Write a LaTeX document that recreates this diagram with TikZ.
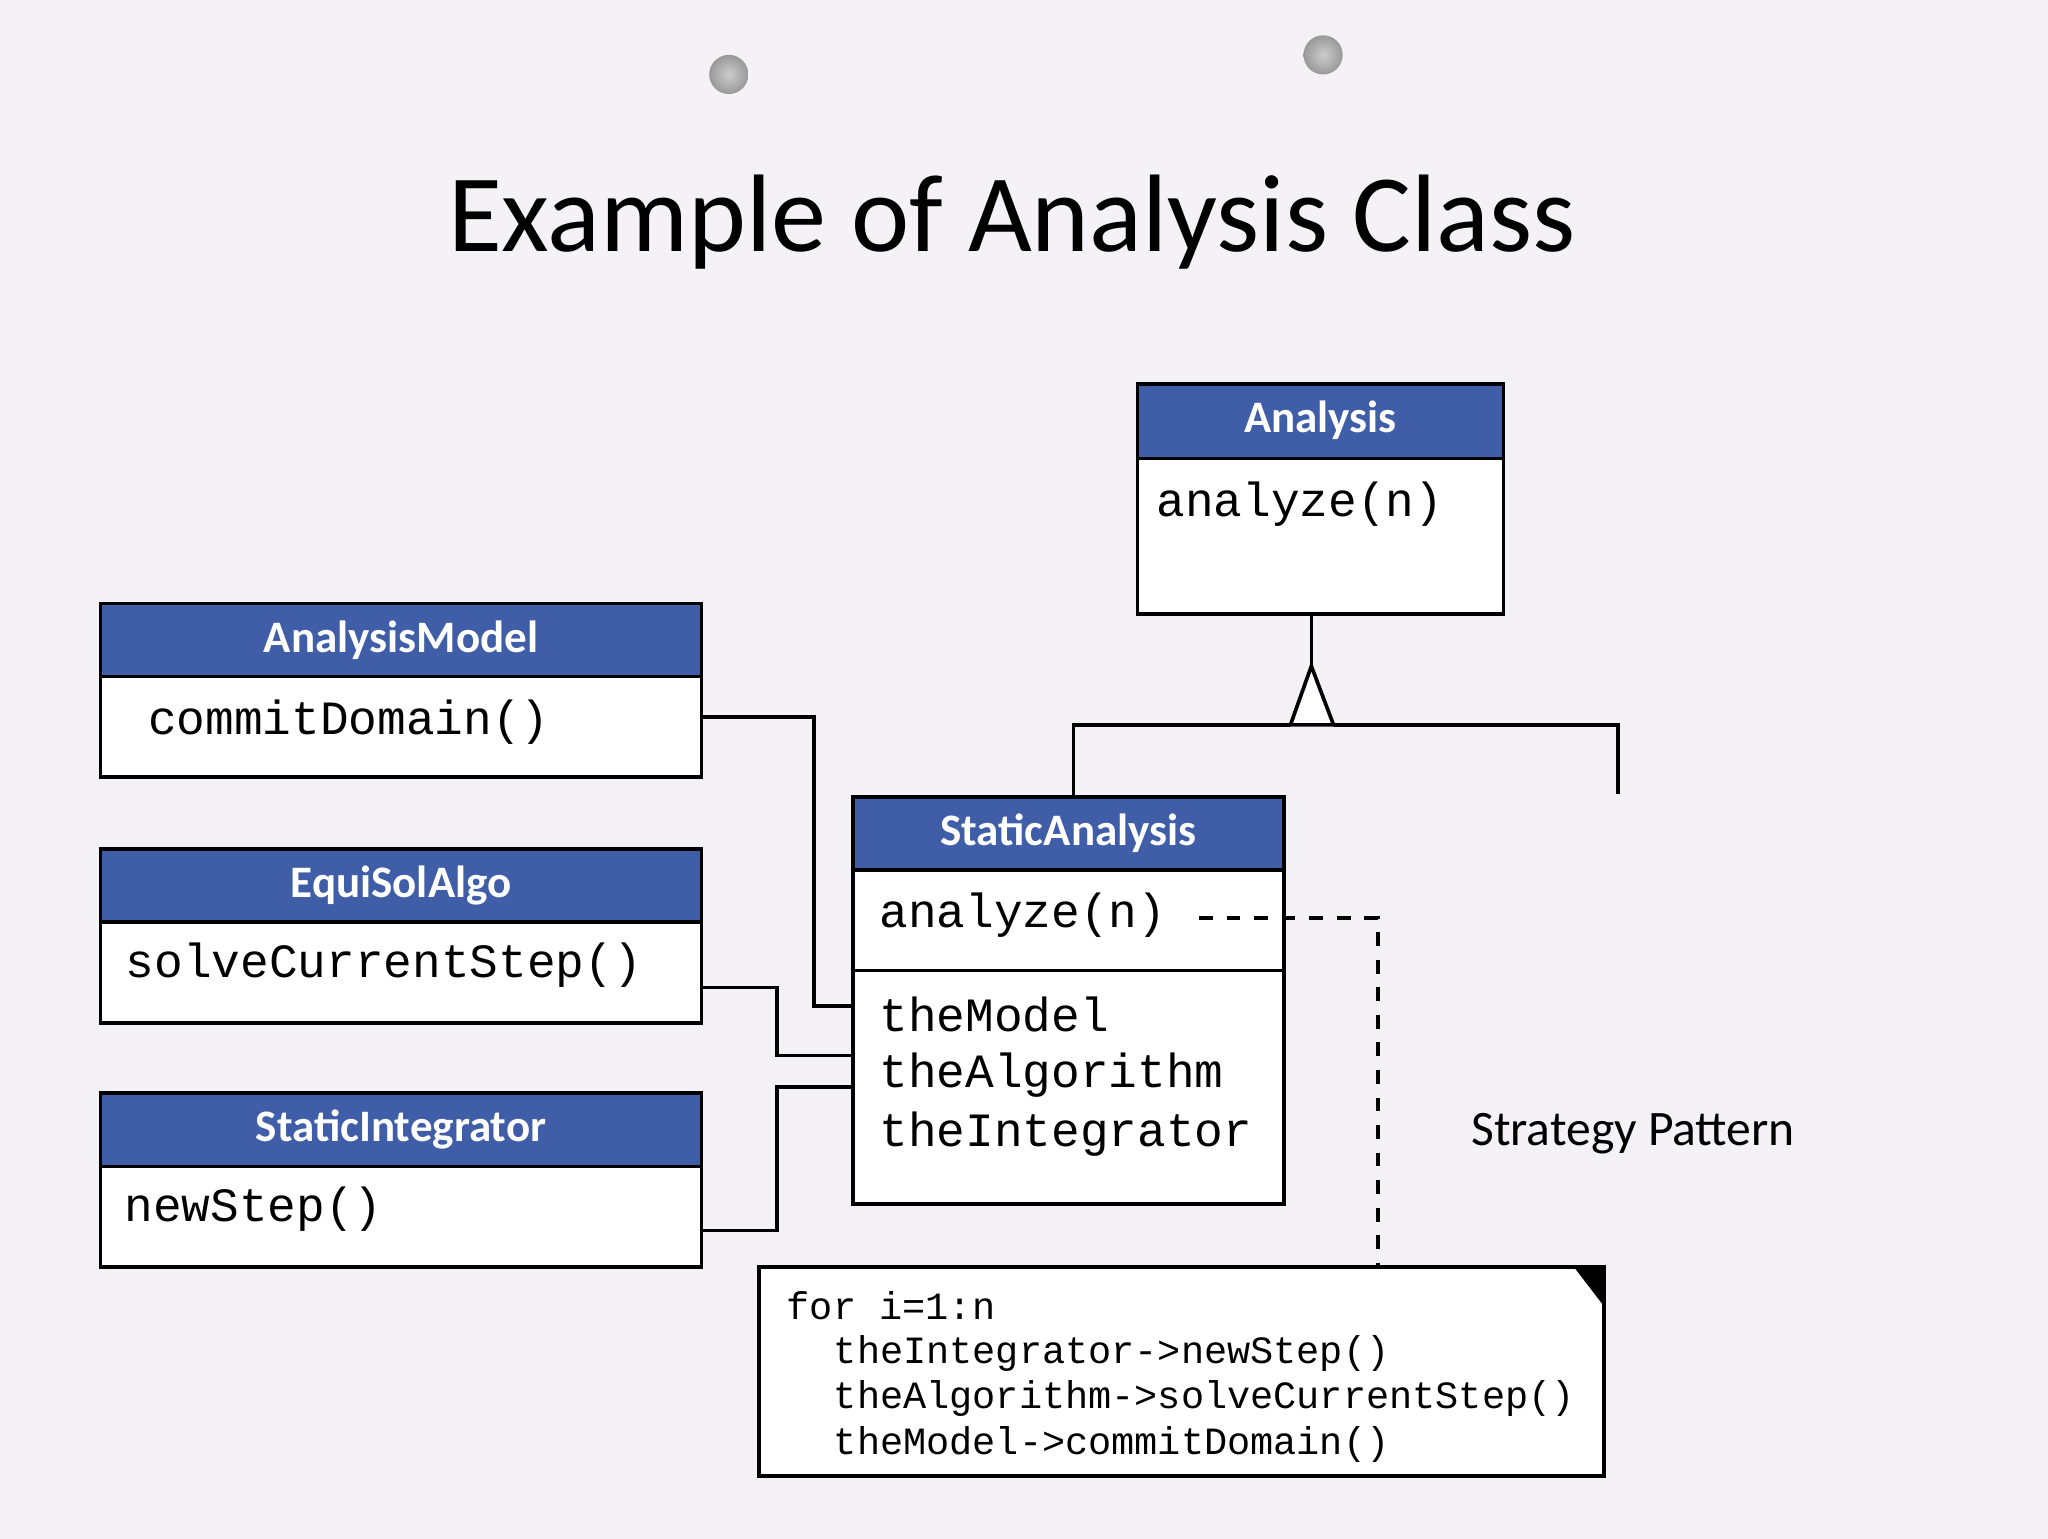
\documentclass[tikz,border=0pt]{standalone}
\usepackage{fontspec}
\setmainfont{Carlito}
\newfontfamily\monof{Liberation Mono}
\begin{document}
\begin{tikzpicture}[x=0.01cm,y=-0.01cm,
  hdr/.style={draw=black,fill=hblue,line width=0.8pt},
  bdy/.style={draw=black,fill=white,line width=0.8pt},
  htext/.style={text=white,font=\bfseries\fontsize{9.8}{12}\selectfont},
  mtext/.style={anchor=west,font=\monof\fontsize{10.4}{12}\selectfont},
  ntext/.style={anchor=west,font=\monof\fontsize{8.4}{10}\selectfont},
  con/.style={line width=0.8pt}]
\definecolor{hblue}{RGB}{64,94,168}
\definecolor{bg}{RGB}{244,242,247}
\fill[bg] (0,0) rectangle (1568,1178);
\useasboundingbox (0,0) rectangle (1568,1178);
\shade[inner color=gray!40,outer color=gray!80] (558,57) circle (15);
\shade[inner color=gray!40,outer color=gray!80] (1013,42) circle (15);
\node[font=\fontsize{24}{28}\selectfont] (title) at (775,170) {Example of Analysis Class};
% Analysis
\draw[bdy] (871,351) rectangle (1151,470);
\draw[hdr] (871,294) rectangle (1151,351);
\node[htext] (an) at (1011,322) {Analysis};
\node[mtext] (ana) at (873,386) {analyze(n)};
\coordinate (aBot) at (1004,470);
% StaticAnalysis
\draw[bdy] (653,666) rectangle (983,922);
\draw[bdy] (653,666) -- (983,666) (653,743) -- (983,743);
\draw[hdr] (653,610) rectangle (983,666);
\node[htext] (sa) at (818,638) {StaticAnalysis};
\node[mtext] (saz) at (661,701) {analyze(n)};
\node[mtext] (tm) at (661,777) {theModel};
\node[mtext] (ta) at (661,823) {theAlgorithm};
\node[mtext] (ti) at (661,868) {theIntegrator};
% left classes
\draw[bdy] (77,518) rectangle (537,595);
\draw[hdr] (77,462) rectangle (537,518);
\node[htext] (am) at (307,490) {AnalysisModel};
\node[mtext] (cd) at (101,553) {commitDomain()};
\draw[bdy] (77,706) rectangle (537,783);
\draw[hdr] (77,650) rectangle (537,706);
\node[htext] (es) at (307,678) {EquiSolAlgo};
\node[mtext] (sc) at (84,739) {solveCurrentStep()};
\draw[bdy] (77,893) rectangle (537,970);
\draw[hdr] (77,837) rectangle (537,893);
\node[htext] (si) at (307,865) {StaticIntegrator};
\node[mtext] (ns) at (83,926) {newStep()};
% inheritance
\draw[con] (aBot) -- (1004,510);
\draw[con,fill=white] (1004,510) -- (1021,555) -- (988,555) -- cycle;
\draw[con] (822,610) -- (822,555) -- (988,555) (1021,555) -- (1239,555) -- (1239,608);
% associations
\draw[con] (537,549) -- (623,549) -- (623,770) -- (653,770);
\draw[con] (537,756) -- (595,756) -- (595,808) -- (653,808);
\draw[con] (537,942) -- (595,942) -- (595,832) -- (653,832);
% note
\draw[bdy] (581,970) rectangle (1228,1130);
\fill[black] (1205,970) -- (1228,970) -- (1228,1000) -- cycle;
\draw[con,dashed] (918,703) -- (1055,703) -- (1055,970);
\node[ntext] (n1) at (590,1000) {for i=1:n};
\node[ntext] (n2) at (626,1036) {theIntegrator->newStep()};
\node[ntext] (n3) at (626,1071) {theAlgorithm->solveCurrentStep()};
\node[ntext] (n4) at (626,1106) {theModel->commitDomain()};
\node[anchor=west,font=\fontsize{10.8}{13}\selectfont] (sp) at (1114,868) {Strategy Pattern};
\end{tikzpicture}
\end{document}
